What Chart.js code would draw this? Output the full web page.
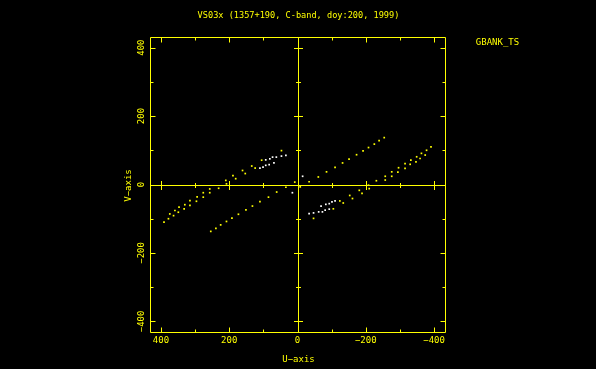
<!DOCTYPE html>
<html>
<head>
<meta charset="utf-8">
<script src="https://cdn.jsdelivr.net/npm/chart.js@4/dist/chart.umd.min.js"></script>
<style>
  html, body { margin: 0; padding: 0; background: #000; }
  canvas { display: block; }
</style>
</head>
<body>
<canvas id="uv" width="596" height="369"></canvas>
<script>
// one half of the uv tracks (the other half is the conjugate -u,-v)
let track1YellowU = [-391, -378, -374, -363, -359, -349, -347, -332, -330, -315, -315, -296, -294, -276,
                     -276, -257, -257, -231, -208, -210, -181, -189, -153, -161, -134, -124, -105, -47];
let track1YellowV = [110, 100, 86, 91, 76, 81, 66, 71, 59, 61, 47, 49, 36, 37,
                     24, 24, 13, 11, -2, -12, -17, -26, -32, -41, -54, -48, -71, -99];
let track1WhiteU = [-110, -101, -93, -83, -69, -93, -81, -73, -62, -47, -34];
let track1WhiteV = [-48, -51, -56, -58, -63, -72, -75, -80, -80, -83, -85];
let track2YellowU = [-254, -239, -225, -208, -192, -173, -151, -132, -110, -85, -61, -34, -8];
let track2YellowV = [137, 128, 118, 108, 98, 87, 74, 63, 50, 37, 22, 8, -7];
let track2WhiteU = [-15];
let track2WhiteV = [24];

let tickLabels = [400, 200, 0, -200, -400];
let minorTicks = [-400, -300, -200, -100, 0, 100, 200, 300, 400];

let title = "VS03x (1357+190, C-band, doy:200, 1999)";
let stationLabel = "GBANK_TS";

let yellow = "#ffff00";
let white = "#ffffff";
let font = "9px 'DejaVu Sans Mono'";

function points(us, vs) {
    let out = [];
    for (let i = 0; i < us.length; i++) {
        out.push({x: us[i], y: vs[i]});
        out.push({x: -us[i], y: -vs[i]});
    }
    return out;
}

function fmt(n) {
    return n < 0 ? "\u2212" + (-n) : "" + n;
}

///FRAME + AXES
let framePlugin = {
    id: 'frame',
    beforeDatasetsDraw(chart) {
        let ctx = chart.ctx;
        let a = chart.chartArea;
        let xs = chart.scales.x, ys = chart.scales.y;
        let L = Math.round(a.left) + 0.5, R = Math.round(a.right) + 0.5;
        let T = Math.round(a.top) + 0.5, B = Math.round(a.bottom) + 0.5;
        let x0 = Math.round(xs.getPixelForValue(0)) + 0.5;
        let y0 = Math.round(ys.getPixelForValue(0)) + 0.5;

        ctx.save();
        ctx.strokeStyle = yellow;
        ctx.lineWidth = 1;
        ctx.beginPath();
        ctx.rect(L, T, R - L, B - T);
        ctx.moveTo(x0, T); ctx.lineTo(x0, B);
        ctx.moveTo(L, y0); ctx.lineTo(R, y0);

        minorTicks.forEach(function(v) {
            let major = tickLabels.indexOf(v) >= 0;
            let len = major ? 5 : 3;
            let half = major ? 4.5 : 2.5;
            let px = Math.round(xs.getPixelForValue(v)) + 0.5;
            let py = Math.round(ys.getPixelForValue(v)) + 0.5;
            // frame ticks
            ctx.moveTo(px, T); ctx.lineTo(px, T + len);
            ctx.moveTo(px, B); ctx.lineTo(px, B - len);
            ctx.moveTo(L, py); ctx.lineTo(L + len, py);
            ctx.moveTo(R, py); ctx.lineTo(R - len, py);
            // ticks across the centre axes
            if (v !== 0) {
                ctx.moveTo(px, y0 - half); ctx.lineTo(px, y0 + half);
                ctx.moveTo(x0 - half, py); ctx.lineTo(x0 + half, py);
            }
        });
        ctx.stroke();

        ctx.fillStyle = yellow;
        ctx.font = font;
        ctx.textAlign = 'center';
        ctx.textBaseline = 'middle';
        tickLabels.forEach(function(v) {
            ctx.fillText(fmt(v), xs.getPixelForValue(v), B + 8);
        });
        ctx.fillText("U\u2212axis", x0, B + 27);
        ctx.fillText(stationLabel, R + 52, 43);
        ctx.font = "8.6px 'DejaVu Sans Mono'";
        ctx.fillText(title, x0, 16);
        ctx.font = font;

        tickLabels.forEach(function(v) {
            ctx.save();
            ctx.translate(L - 8.5, ys.getPixelForValue(v));
            ctx.rotate(-Math.PI / 2);
            ctx.fillText(fmt(v), 0, 0);
            ctx.restore();
        });
        ctx.save();
        ctx.translate(L - 22, y0);
        ctx.rotate(-Math.PI / 2);
        ctx.fillText("V\u2212axis", 0, 0);
        ctx.restore();
        ctx.restore();
    }
};

let ctx = document.getElementById("uv").getContext("2d");
let uv = new Chart(ctx, {
    type: 'scatter',
    data: {
        datasets: [{
            data: points(track1YellowU, track1YellowV).concat(points(track2YellowU, track2YellowV)),
            backgroundColor: yellow,
            pointStyle: 'rect',
            pointRadius: 1.2,
            borderWidth: 0,
        }, {
            data: points(track1WhiteU, track1WhiteV).concat(points(track2WhiteU, track2WhiteV)),
            backgroundColor: white,
            pointStyle: 'rect',
            pointRadius: 1.2,
            borderWidth: 0,
        }],
    },
    options: {
        responsive: false,
        animation: false,
        events: [],
        layout: { padding: { left: 150, right: 151, top: 37, bottom: 37 } },
        scales: {
            x: { type: 'linear', min: -432, max: 432, reverse: true, display: false },
            y: { type: 'linear', min: -431, max: 431, display: false },
        },
        plugins: {
            legend: { display: false },
            tooltip: { enabled: false },
        },
    },
    plugins: [framePlugin]
});
</script>
</body>
</html>
